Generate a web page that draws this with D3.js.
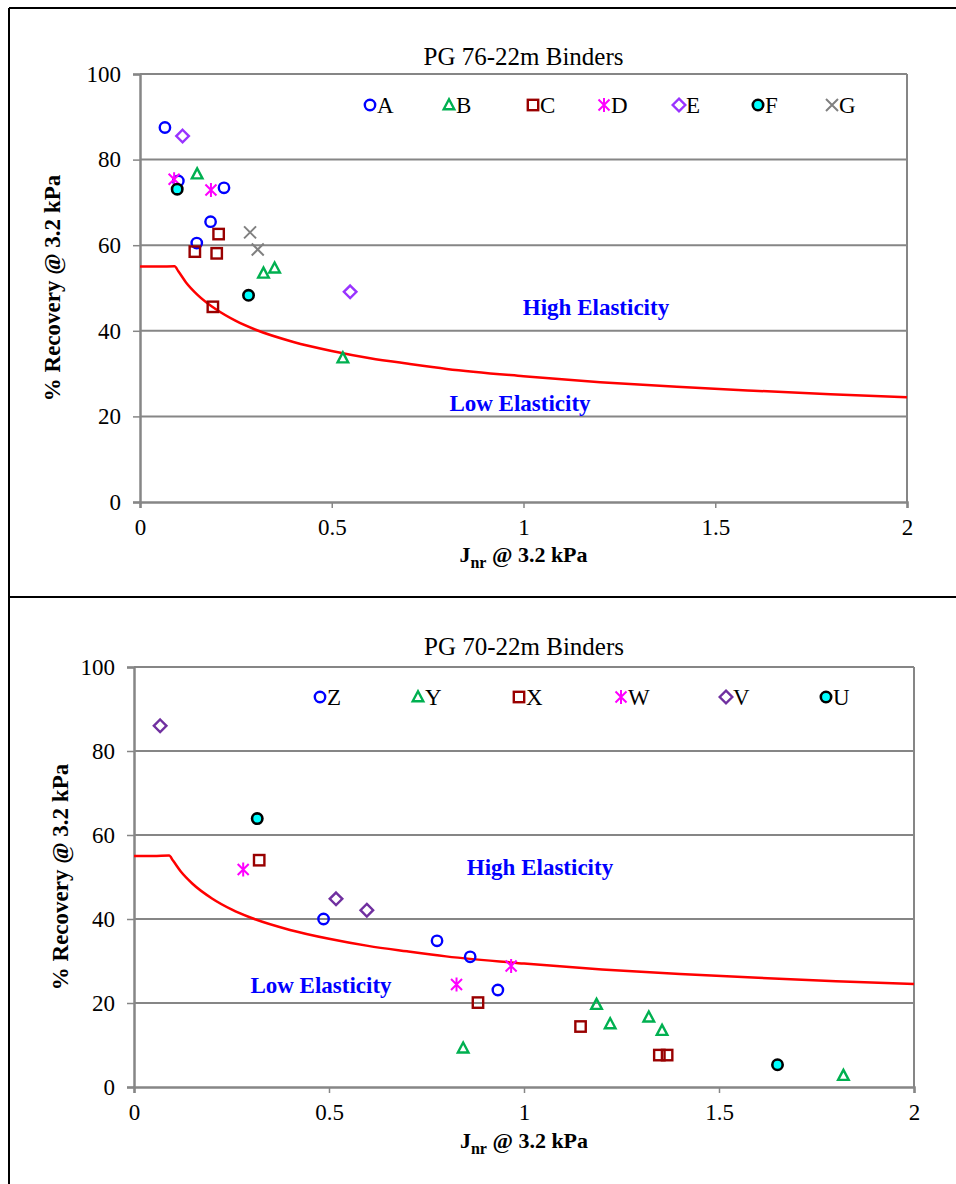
<!DOCTYPE html>
<html><head><meta charset="utf-8">
<script src="https://cdn.jsdelivr.net/npm/d3@7"></script>
<style>
html,body{margin:0;padding:0;background:#fff;}
svg{display:block;}
</style></head>
<body>
<svg id="c" width="956" height="1184" font-family="Liberation Serif"></svg>
<script>
// ---------- Data ----------
const xTicks = [0, 0.5, 1, 1.5, 2];
const xTickLabels = ["0", "0.5", "1", "1.5", "2"];
const yTicks = [0, 20, 40, 60, 80, 100];

// Limit curve
const curveJnr = [0, 0.05, 0.09, 0.1, 0.12, 0.15, 0.2, 0.25, 0.3, 0.4, 0.5, 0.6, 0.7, 0.8, 1.0, 1.2, 1.4, 1.6, 1.8, 2.0];
const curveRec = [55, 55, 55.1, 53.9, 51.3, 48.4, 44.9, 42.3, 40.3, 37.4, 35.3, 33.6, 32.3, 31.1, 29.4, 28.0, 26.9, 26.0, 25.2, 24.5];

// Top chart: PG 76-22m
const topTitle = "PG 76-22m Binders";
const topNames = ["A", "B", "C", "D", "E", "F", "G"];
const topA_x = [0.065, 0.1, 0.219, 0.184, 0.148];
const topA_y = [87.5, 75.0, 73.4, 65.5, 60.5];
const topB_x = [0.149, 0.322, 0.351, 0.529];
const topB_y = [76.6, 53.4, 54.6, 33.6];
const topC_x = [0.205, 0.143, 0.2, 0.19];
const topC_y = [62.6, 58.5, 58.1, 45.6];
const topD_x = [0.089, 0.185];
const topD_y = [75.4, 72.9];
const topE_x = [0.111, 0.548];
const topE_y = [85.5, 49.1];
const topF_x = [0.097, 0.283];
const topF_y = [73.1, 48.3];
const topG_x = [0.287, 0.307];
const topG_y = [63.0, 59.0];

// Bottom chart: PG 70-22m
const botTitle = "PG 70-22m Binders";
const botNames = ["Z", "Y", "X", "W", "V", "U"];
const botZ_x = [0.486, 0.777, 0.862, 0.933];
const botZ_y = [40.0, 34.8, 31.0, 23.1];
const botY_x = [1.186, 1.221, 1.32, 1.354, 0.844, 1.819];
const botY_y = [19.6, 15.0, 16.6, 13.4, 9.2, 2.7];
const botX_x = [0.321, 0.882, 1.145, 1.347, 1.367];
const botX_y = [54.0, 20.1, 14.4, 7.6, 7.6];
const botW_x = [0.28, 0.827, 0.967];
const botW_y = [51.8, 24.4, 28.8];
const botV_x = [0.067, 0.518, 0.597];
const botV_y = [86.0, 44.8, 42.1];
const botU_x = [0.316, 1.65];
const botU_y = [63.9, 5.3];

// ---------- Drawing ----------
const FONT = "'Liberation Serif', 'Times New Roman', serif";
const svg = d3.select("#c");
const GRID = "#868686";

// frame lines (table cells)
svg.append("line").attr("x1", 9).attr("x2", 956).attr("y1", 8).attr("y2", 8).attr("stroke", "#000").attr("stroke-width", 2);
svg.append("line").attr("x1", 9).attr("x2", 9).attr("y1", 8).attr("y2", 1184).attr("stroke", "#000").attr("stroke-width", 2);
svg.append("line").attr("x1", 9).attr("x2", 956).attr("y1", 597).attr("y2", 597).attr("stroke", "#000").attr("stroke-width", 2);

const styles = {
  circle: {shape: "circle", color: "#0000FF"},
  tri: {shape: "tri", color: "#00B050"},
  sq: {shape: "sq", color: "#990000"},
  star: {shape: "star", color: "#FF00FF"},
  dia: {shape: "dia", color: "#9933FF"},
  dia2: {shape: "dia", color: "#7030A0"},
  fill: {shape: "fill", color: "#000"},
  x: {shape: "x", color: "#808080"}
};

function marker(g, cx, cy, st) {
  const c = st.color;
  if (st.shape === "circle") {
    g.append("circle").attr("cx", cx).attr("cy", cy).attr("r", 5.2).attr("fill", "none").attr("stroke", c).attr("stroke-width", 2.4);
  } else if (st.shape === "fill") {
    g.append("circle").attr("cx", cx).attr("cy", cy).attr("r", 5.2).attr("fill", "#00FFFF").attr("stroke", "#000").attr("stroke-width", 2.6);
  } else if (st.shape === "tri") {
    g.append("path").attr("d", `M${cx},${cy-5.8}L${cx+5.3},${cy+4.2}L${cx-5.3},${cy+4.2}Z`).attr("fill", "none").attr("stroke", c).attr("stroke-width", 2.4);
  } else if (st.shape === "sq") {
    g.append("rect").attr("x", cx-5.2).attr("y", cy-5.2).attr("width", 10.4).attr("height", 10.4).attr("fill", "none").attr("stroke", c).attr("stroke-width", 2.4);
  } else if (st.shape === "dia") {
    g.append("path").attr("d", `M${cx},${cy-6.3}L${cx+6.3},${cy}L${cx},${cy+6.3}L${cx-6.3},${cy}Z`).attr("fill", "none").attr("stroke", c).attr("stroke-width", 2.4);
  } else if (st.shape === "star") {
    g.append("path").attr("d", `M${cx-5.5},${cy-5.5}L${cx+5.5},${cy+5.5}M${cx+5.5},${cy-5.5}L${cx-5.5},${cy+5.5}M${cx},${cy-7}L${cx},${cy+7}`).attr("stroke", c).attr("stroke-width", 2);
  } else if (st.shape === "x") {
    g.append("path").attr("d", `M${cx-6},${cy-6}L${cx+6},${cy+6}M${cx+6},${cy-6}L${cx-6},${cy+6}`).attr("stroke", c).attr("stroke-width", 2);
  }
}

function txt(sel) { return sel.style("font-family", FONT); }

function drawChart(cfg) {
  const x = d3.scaleLinear().domain([0, 2]).range([cfg.left, cfg.right]);
  const y = d3.scaleLinear().domain([0, 100]).range([cfg.bottom, cfg.top]);
  const g = svg.append("g");

  // gridlines
  g.append("g").selectAll("line").data(yTicks.filter(v => v > 0)).join("line")
    .attr("x1", cfg.left).attr("x2", cfg.right).attr("y1", d => y(d)).attr("y2", d => y(d))
    .attr("stroke", GRID).attr("stroke-width", 2);
  // right border
  g.append("line").attr("x1", cfg.right).attr("x2", cfg.right).attr("y1", cfg.top).attr("y2", cfg.bottom)
    .attr("stroke", GRID).attr("stroke-width", 2);

  // y axis
  const ya = g.append("g").attr("transform", `translate(${cfg.left},0)`)
    .call(d3.axisLeft(y).tickValues(yTicks).tickSize(7).tickPadding(12).tickFormat(d3.format("d")));
  ya.select(".domain").attr("stroke", GRID).attr("stroke-width", 2.5);
  ya.selectAll(".tick line").attr("stroke", GRID).attr("stroke-width", 1.5);
  txt(ya.selectAll(".tick text")).attr("font-size", 23).attr("fill", "#000");

  // x axis
  const xa = g.append("g").attr("transform", `translate(0,${cfg.bottom})`)
    .call(d3.axisBottom(x).tickValues(xTicks).tickSize(6).tickPadding(cfg.xPad).tickFormat((d, i) => xTickLabels[i]));
  xa.select(".domain").attr("stroke", GRID).attr("stroke-width", 2.5);
  xa.selectAll(".tick line").attr("stroke", GRID).attr("stroke-width", 1.5);
  txt(xa.selectAll(".tick text")).attr("font-size", 23).attr("fill", "#000");

  // title
  txt(g.append("text")).attr("x", (cfg.left + cfg.right) / 2).attr("y", cfg.titleY)
    .attr("text-anchor", "middle").attr("font-size", 25).text(cfg.title);

  // axis titles
  const xt = txt(g.append("text")).attr("x", (cfg.left + cfg.right) / 2).attr("y", cfg.xTitleY)
    .attr("text-anchor", "middle").attr("font-size", 22).attr("font-weight", "bold");
  xt.append("tspan").text("J");
  xt.append("tspan").attr("font-size", 16).attr("dy", 6).text("nr");
  xt.append("tspan").attr("dy", -6).text(" @ 3.2 kPa");

  txt(g.append("text")).attr("transform", `translate(${cfg.yTitleX},${(cfg.top + cfg.bottom) / 2}) rotate(-90)`)
    .attr("text-anchor", "middle").attr("font-size", 23).attr("font-weight", "bold").text("% Recovery @ 3.2 kPa");

  // region labels
  txt(g.append("text")).attr("x", cfg.highX).attr("y", cfg.highY).attr("text-anchor", "middle")
    .attr("font-size", 23).attr("font-weight", "bold").attr("fill", "#0000FF").text("High Elasticity");
  txt(g.append("text")).attr("x", cfg.lowX).attr("y", cfg.lowY).attr("text-anchor", "middle")
    .attr("font-size", 23).attr("font-weight", "bold").attr("fill", "#0000FF").text("Low Elasticity");

  // limit curve
  const line = d3.line().x(d => x(d[0])).y(d => y(d[1])).curve(d3.curveMonotoneX);
  g.append("path").datum(curveJnr.map((v, i) => [v, curveRec[i]]))
    .attr("d", line).attr("fill", "none").attr("stroke", "#FF0000").attr("stroke-width", 2.5);

  // series
  cfg.series.forEach(s => {
    s.xs.forEach((v, i) => marker(g, x(v), y(s.ys[i]), s.style));
  });

  // legend
  cfg.series.forEach((s, i) => {
    const lx = cfg.legendX[i];
    marker(g, lx, cfg.legendY, s.style);
    txt(g.append("text")).attr("x", lx + 7).attr("y", cfg.legendY + 8).attr("font-size", 23).text(s.name);
  });
}

drawChart({
  left: 140, right: 907, top: 74, bottom: 502,
  title: topTitle, titleY: 65, xTitleY: 562, yTitleX: 60, xPad: 11,
  highX: 596, highY: 315, lowX: 520, lowY: 411,
  legendY: 105, legendX: [370, 449, 533, 604, 679, 758, 832],
  series: [
    {name: topNames[0], xs: topA_x, ys: topA_y, style: styles.circle},
    {name: topNames[1], xs: topB_x, ys: topB_y, style: styles.tri},
    {name: topNames[2], xs: topC_x, ys: topC_y, style: styles.sq},
    {name: topNames[3], xs: topD_x, ys: topD_y, style: styles.star},
    {name: topNames[4], xs: topE_x, ys: topE_y, style: styles.dia},
    {name: topNames[5], xs: topF_x, ys: topF_y, style: styles.fill},
    {name: topNames[6], xs: topG_x, ys: topG_y, style: styles.x}
  ]
});

drawChart({
  left: 134, right: 914, top: 667, bottom: 1087,
  title: botTitle, titleY: 655, xTitleY: 1148, yTitleX: 68, xPad: 11,
  highX: 540, highY: 875, lowX: 321, lowY: 993,
  legendY: 697, legendX: [320, 418, 519, 621, 726, 826],
  series: [
    {name: botNames[0], xs: botZ_x, ys: botZ_y, style: styles.circle},
    {name: botNames[1], xs: botY_x, ys: botY_y, style: styles.tri},
    {name: botNames[2], xs: botX_x, ys: botX_y, style: styles.sq},
    {name: botNames[3], xs: botW_x, ys: botW_y, style: styles.star},
    {name: botNames[4], xs: botV_x, ys: botV_y, style: styles.dia2},
    {name: botNames[5], xs: botU_x, ys: botU_y, style: styles.fill}
  ]
});
</script>
</body></html>
